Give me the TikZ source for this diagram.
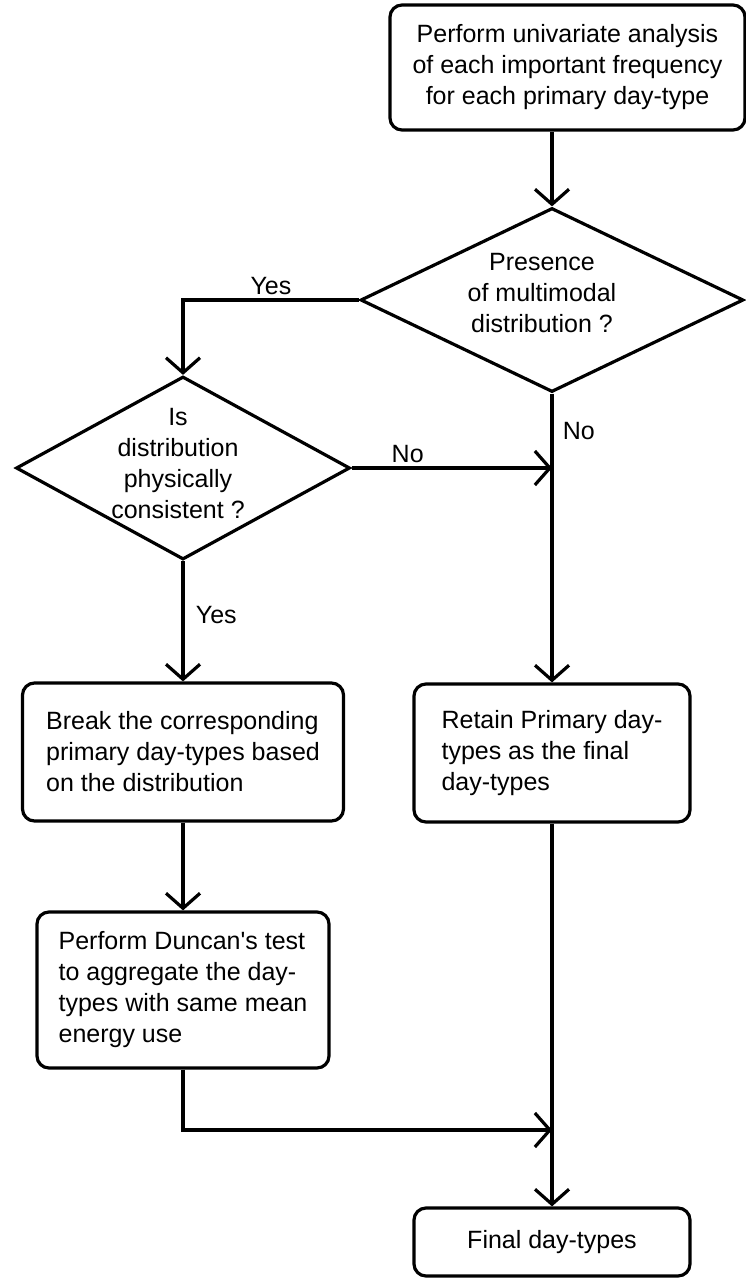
\documentclass[tikz,border=0pt]{standalone}
\usepackage{fontspec}
\setmainfont{Liberation Sans}[Ligatures=TeXOff]
\usetikzlibrary{shapes.geometric,arrows.meta}

\begin{document}
\begin{tikzpicture}[x=1pt,y=-1pt,line width=3.2pt,
		>={Straight Barb[length=15pt,width=34pt]},
		every node/.style={font=\fontsize{25}{31}\selectfont},
		process/.style={draw,rounded corners=12pt,inner sep=0pt},
		decision/.style={draw,diamond,inner sep=0pt}]
			\useasboundingbox (0,0) rectangle (746,1280);
			\node[process,minimum width=355pt,minimum height=125pt,align=center] (start) at (567.5,67.5) {Perform univariate analysis\\of each important frequency\\for each primary day-type};
			\node[decision,minimum width=383pt,minimum height=184pt] (multi) at (552,300) {};
			\node[align=center] (multitxt) at (542,293) {Presence\\of multimodal\\distribution ?};
			\node[decision,minimum width=334pt,minimum height=183pt] (phys) at (183,468) {};
			\node[align=center] (phystxt) at (178,464) {Is\\distribution\\physically\\consistent ?};
			\node[process,minimum width=321pt,minimum height=138pt,align=left] (brk) at (183,752) {Break the corresponding\\primary day-types based\\on the distribution};
			\node[process,minimum width=292pt,minimum height=156pt,align=left] (dunc) at (183,990) {Perform Duncan's test\\to aggregate the day-\\types with same mean\\energy use};
			\node[process,minimum width=276pt,minimum height=138pt,align=left] (keep) at (552,753) {Retain Primary day-\\types as the final\\day-types};
			\node[process,minimum width=276pt,minimum height=68pt] (final) at (552,1242) {Final day-types};
			\coordinate (join) at (552,468);
			\coordinate (merge) at (552,1130);
			\draw[->] (multi.north |- start.south) -- (multi.north);
			\draw[->] (multi.west) -| node[above,pos=0.25] {Yes} (phys.north);
			\draw[->] (phys.east) -- node[above,pos=0.28] {No} (join);
			\draw[->] (multi.south) -- node[right=6pt,pos=0.13] {No} (keep.north);
			\draw[->] (phys.south) -- node[right=8pt,pos=0.45] {Yes} (brk.north);
			\draw[->] (brk) -- (dunc);
			\draw[->] (dunc.south) |- (merge);
			\draw[->] (keep) -- (final);
		\end{tikzpicture}
\end{document}
